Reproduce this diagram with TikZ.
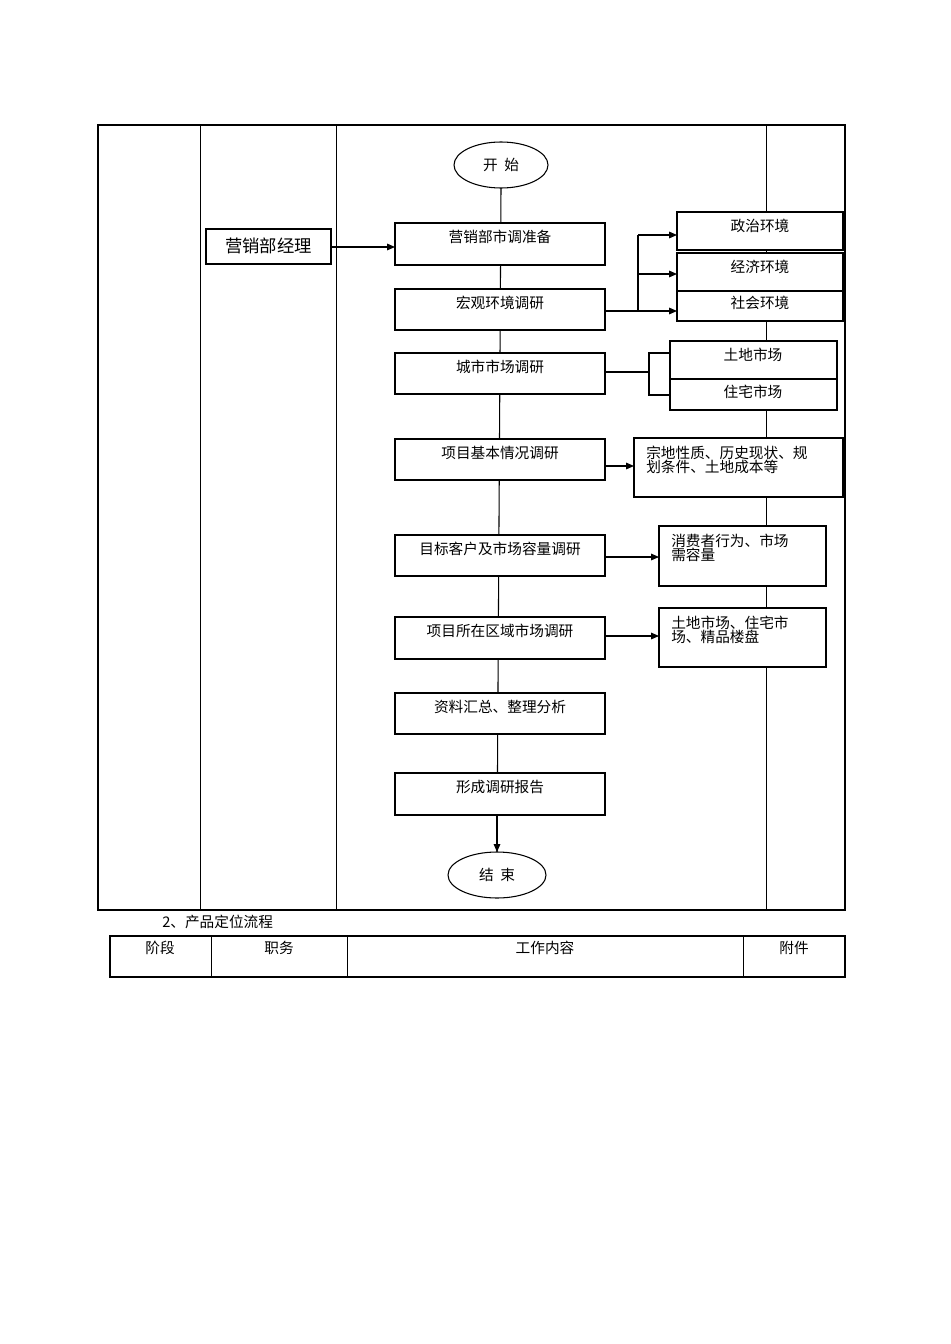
\documentclass[tikz,border=0pt]{standalone}
\usepackage{fontspec}
\setmainfont{Noto Sans CJK SC}
\usetikzlibrary{arrows.meta}
\begin{document}
\begin{tikzpicture}[x=0.75pt,y=-0.75pt,
  lbl/.style={font=\fontsize{11}{13}\selectfont,align=left,inner sep=0},
  ln/.style={draw,thick},
  ar/.style={draw,thick,-{Triangle[length=6pt,width=5pt]}}]
\useasboundingbox (0,0) rectangle (950,1344);
% table
\draw[thick] (98,125) rectangle (845,910);
\foreach \x in {200,336,766} \draw (\x,125) -- (\x,910);
% center line
\draw[thick] (501,188) -- (497,852);
% ellipses
\draw[thick,fill=white] (501,165) ellipse [x radius=47,y radius=23];
\node[lbl] (start) at (501,165) {开\ \ 始};
\draw[thick,fill=white] (497,875) ellipse [x radius=49,y radius=23];
\node[lbl] (end) at (497,875) {结\ \ 束};
% manager
\draw[thick,fill=white] (206,229) rectangle (331,264);
\node[lbl,font=\fontsize{13}{15}\selectfont] (mgr) at (268.5,246) {营销部经理};
% main boxes
\foreach \ya/\yb/\t/\n in {223/265/营销部市调准备/b1,289/330/宏观环境调研/b2,353/394/城市市场调研/b3,439/480/项目基本情况调研/b4,535/576/目标客户及市场容量调研/b5,617/659/项目所在区域市场调研/b6,693/734/资料汇总、整理分析/b7,773/815/形成调研报告/b8}{
  \draw[thick,fill=white] (395,\ya) rectangle (605,\yb);
  \node[lbl,anchor=north] (\n) at (500,\ya+7) {\t};
}
\draw[ar] (331,247) -- (395,247);
\draw[ar] (497,815) -- (497,852);
% right boxes
\foreach \xa/\xb/\ya/\yb in {677/843/212/250,677/843/253/291,677/843/291/321,670/837/341/379,670/837/379/410,634/843/438/497,659/826/526/586,659/826/608/667}
  \draw[thick,fill=white] (\xa,\ya) rectangle (\xb,\yb);
\node[lbl,anchor=north] (r1) at (760,219) {政治环境};
\node[lbl,anchor=north] (r2) at (760,260) {经济环境};
\node[lbl,anchor=north] (r3) at (760,296) {社会环境};
\node[lbl,anchor=north] (r4) at (753,348) {土地市场};
\node[lbl,anchor=north] (r5) at (753,385) {住宅市场};
\node[lbl,anchor=north west] (r6) at (646,446) {宗地性质、历史现状、规\\[-3pt]划条件、土地成本等};
\node[lbl,anchor=north west] (r7) at (671,534) {消费者行为、市场\\[-3pt]需容量};
\node[lbl,anchor=north west] (r8) at (671,616) {土地市场、住宅市\\[-3pt]场、精品楼盘};
% connectors
\draw[ln] (605,311) -- (638,311);
\draw[ln] (638,235) -- (638,311);
\draw[ar] (638,235) -- (677,235);
\draw[ar] (638,274) -- (677,274);
\draw[ar] (638,311) -- (677,311);
\draw[ln] (605,372) -- (649,372);
\draw[ln] (670,353) -- (649,353) -- (649,395) -- (670,395);
\draw[ar] (605,466) -- (634,466);
\draw[ar] (605,557) -- (659,557);
\draw[ar] (605,636) -- (659,636);
% second part
\node[lbl,anchor=west] (t2) at (162,922) {2、产品定位流程};
\draw[thick] (110,936) rectangle (845,977);
\foreach \x in {211,347,743} \draw (\x,936) -- (\x,977);
\node[lbl] (h1) at (160,948) {阶段};
\node[lbl] (h2) at (279,948) {职务};
\node[lbl] (h3) at (545,948) {工作内容};
\node[lbl] (h4) at (794,948) {附件};
\end{tikzpicture}
\end{document}
